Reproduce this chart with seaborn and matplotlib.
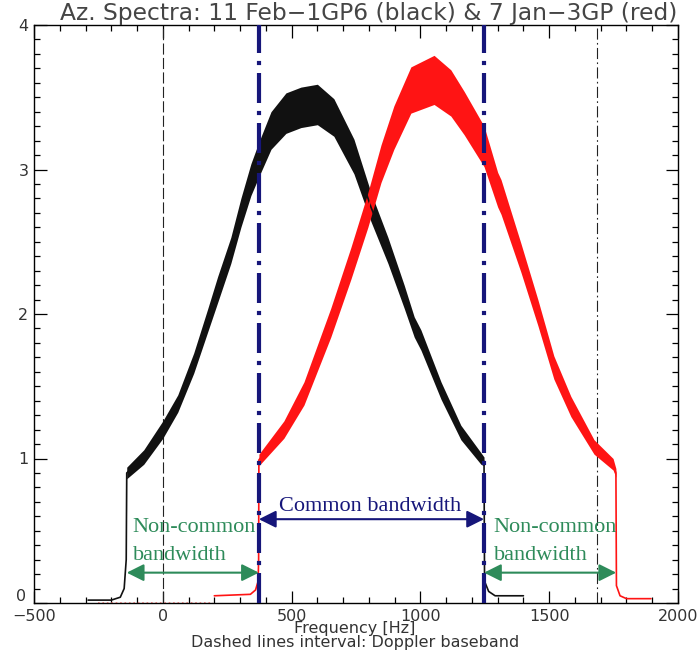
import matplotlib
matplotlib.use('Agg')
import matplotlib.pyplot as plt
import seaborn as sns
import pandas as pd
from matplotlib.ticker import MultipleLocator
from matplotlib.transforms import ScaledTranslation

# black spectrum (11 Feb - 1GP6): centre level and half-width of the noise band
black_freq = [-290, -200, -165, -150, -142, -140, -74, 0, 58, 120, 175, 213, 264, 303, 342,
              373, 420, 478, 536, 600, 664, 742, 808, 874, 937, 976, 1002, 1080, 1157,
              1235, 1247, 1249, 1265, 1290, 1400]
black_level = [0.02, 0.02, 0.04, 0.10, 0.30, 0.90, 1.01, 1.20, 1.38, 1.66, 1.96, 2.17, 2.44,
               2.70, 2.93, 3.07, 3.27, 3.39, 3.43, 3.45, 3.36, 3.09, 2.74, 2.44, 2.12, 1.91,
               1.82, 1.47, 1.18, 1.00, 0.98, 0.15, 0.08, 0.05, 0.05]
black_spread = [0, 0, 0, 0, 0, 0.04, 0.05, 0.06, 0.06, 0.07, 0.08, 0.09, 0.09, 0.10, 0.11,
                0.12, 0.13, 0.14, 0.14, 0.14, 0.13, 0.12, 0.10, 0.09, 0.08, 0.07, 0.07, 0.06,
                0.05, 0.04, 0.03, 0, 0, 0, 0]

# red spectrum (7 Jan - 3GP)
red_freq = [200, 340, 360, 370, 372, 373, 470, 548, 652, 730, 796, 847, 897, 963, 1053, 1118,
            1170, 1247, 1300, 1313, 1390, 1456, 1518, 1584, 1674, 1748, 1759, 1761, 1775,
            1800, 1895]
red_level = [0.05, 0.06, 0.09, 0.15, 0.30, 0.99, 1.20, 1.45, 1.94, 2.35, 2.72, 3.04, 3.29,
             3.55, 3.62, 3.53, 3.39, 3.16, 2.86, 2.81, 2.39, 2.01, 1.63, 1.36, 1.08, 0.96,
             0.90, 0.12, 0.05, 0.03, 0.03]
red_spread = [0, 0, 0, 0, 0, 0.04, 0.06, 0.08, 0.10, 0.11, 0.12, 0.13, 0.15, 0.16, 0.17,
              0.16, 0.15, 0.14, 0.12, 0.12, 0.10, 0.09, 0.08, 0.07, 0.05, 0.04, 0.03, 0, 0,
              0, 0]
red_floor_freq = [-250, 195]
red_floor_level = [0.0, 0.0]

# band edges and Doppler baseband limits
common_band = [373, 1247]
doppler_band = [0, 1685]
outer_edges = [-140, 1760]

navy = '#16167a'
green = '#2e8b5a'
grey = '#333333'

sns.set_style('ticks')
plt.rcParams['font.family'] = ['DejaVu Sans']

fig = plt.figure(figsize=(6.98, 6.52), dpi=100)
ax = fig.add_axes([34 / 698, 1 - 603 / 652, 644 / 698, 578 / 652])

black = pd.DataFrame({'freq': black_freq, 'level': black_level, 'spread': black_spread})
red = pd.DataFrame({'freq': red_freq, 'level': red_level, 'spread': red_spread})

ax.plot(red_floor_freq, red_floor_level, color='#ff8080', lw=1.2, ls=':')
for df, col in [(black, '#111111'), (red, '#ff1414')]:
    ax.fill_between(df['freq'], df['level'] - df['spread'], df['level'] + df['spread'],
                    color=col, lw=0, zorder=2)
    sns.lineplot(data=df, x='freq', y='level', color=col, lw=1.2, estimator=None,
                 sort=False, ax=ax, zorder=3)

# doppler baseband lines
ax.axvline(doppler_band[0], color='#222222', lw=0.8, dashes=(10, 3), zorder=1)
ax.axvline(doppler_band[1], color='#222222', lw=0.8, dashes=(10, 3, 1.5, 3), zorder=1)
# common bandwidth limits
for f in common_band:
    ax.axvline(f, color=navy, lw=3, dashes=(7.2, 1.9, 1, 1.9), zorder=5)

# arrows
ax.annotate('', xy=(common_band[0], 0.58), xytext=(common_band[1], 0.58),
            arrowprops=dict(arrowstyle='<|-|>', color=navy, lw=1.5, mutation_scale=26,
                            shrinkA=0, shrinkB=0), zorder=6)
ax.annotate('', xy=(outer_edges[0], 0.21), xytext=(common_band[0], 0.21),
            arrowprops=dict(arrowstyle='<|-|>', color=green, lw=1.5, mutation_scale=26,
                            shrinkA=0, shrinkB=0), zorder=6)
ax.annotate('', xy=(common_band[1], 0.21), xytext=(outer_edges[1], 0.21),
            arrowprops=dict(arrowstyle='<|-|>', color=green, lw=1.5, mutation_scale=26,
                            shrinkA=0, shrinkB=0), zorder=6)

serif = ['Liberation Serif', 'DejaVu Serif']
ax.text(804, 0.64, 'Common bandwidth', color=navy, fontsize=16, family=serif,
        ha='center', va='baseline')
for x0 in [-117, 1285]:
    ax.text(x0, 0.49, 'Non-common', color=green, fontsize=16, family=serif, va='baseline')
    ax.text(x0, 0.30, 'bandwidth', color=green, fontsize=16, family=serif, va='baseline')

ax.set_xlim(-500, 2000)
ax.set_ylim(0, 4)
ax.set_xticks([-500, 0, 500, 1000, 1500, 2000])
ax.set_yticks([0, 1, 2, 3, 4])
ax.xaxis.set_minor_locator(MultipleLocator(100))
ax.yaxis.set_minor_locator(MultipleLocator(0.1))
ax.tick_params(which='both', direction='in', top=True, right=True, width=0.9,
               colors='black', labelcolor=grey, labelsize=11.5)
ax.tick_params(which='major', length=9, pad=4)
ax.tick_params(which='minor', length=4.5)
ax.set_xlabel('')
ax.set_ylabel('')
for s in ax.spines.values():
    s.set_linewidth(1)
    s.set_color('black')

# lift the "0" on the y axis clear of the "-500" below it
zero_lbl = ax.yaxis.get_major_ticks()[0].label1
zero_lbl.set_transform(zero_lbl.get_transform() + ScaledTranslation(-2 / 72, 6 / 72, fig.dpi_scale_trans))

fig.text(369 / 698, 1 - 20 / 652, 'Az. Spectra: 11 Feb\u22121GP6 (black) & 7 Jan\u22123GP (red)',
         ha='center', va='baseline', fontsize=16.8, color='#454545')
fig.text(355 / 698, 1 - 633 / 652, 'Frequency [Hz]', ha='center', va='baseline',
         fontsize=11.5, color=grey)
fig.text(355 / 698, 1 - 647 / 652, 'Dashed lines interval: Doppler baseband', ha='center',
         va='baseline', fontsize=11.5, color=grey)

fig.savefig('out.png', dpi=100)
